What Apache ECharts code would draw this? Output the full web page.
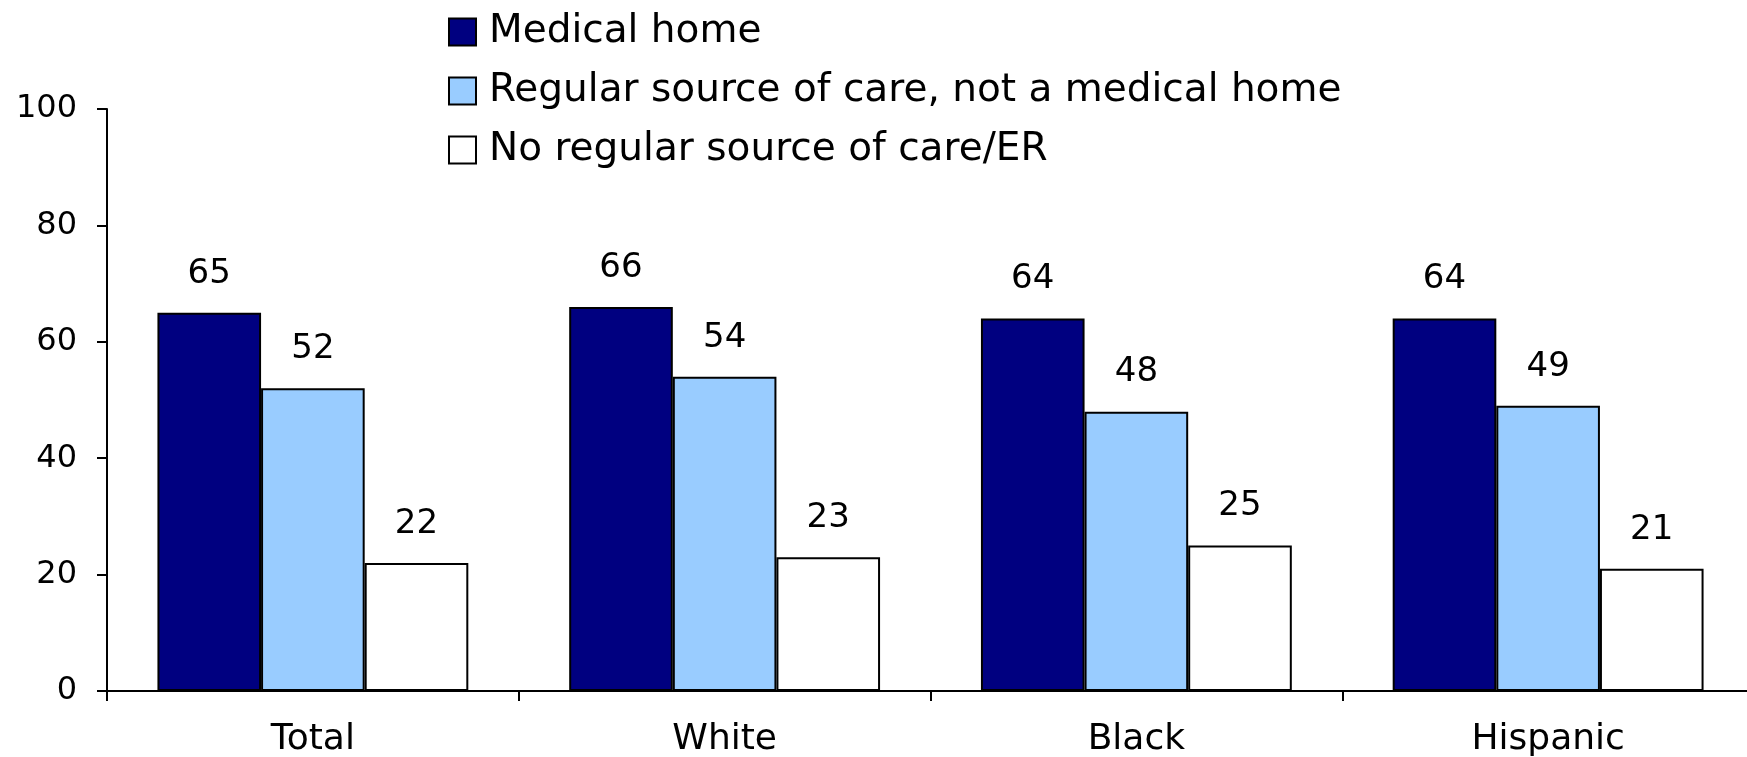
<!DOCTYPE html>
<html>
<head>
<meta charset="utf-8">
<script src="https://cdn.jsdelivr.net/npm/echarts@6/dist/echarts.min.js"></script>
<style>
html,body{margin:0;padding:0;background:#fff;}
#chart{width:1747px;height:757px;}
</style>
</head>
<body>
<div id="chart"></div>
<script>
const categories = ['Total', 'White', 'Black', 'Hispanic'];
const seriesNames = ['Medical home', 'Regular source of care, not a medical home', 'No regular source of care/ER'];
const medicalHome = [65, 66, 64, 64];
const regularSource = [52, 54, 48, 49];
const noRegularSource = [22, 23, 25, 21];
const yTicks = [0, 20, 40, 60, 80, 100];

const colors = ['#000080', '#99CCFF', '#FFFFFF'];
const font = 'DejaVu Sans';
const chart = echarts.init(document.getElementById('chart'));

function mk(name, data, color) {
  return {
    name: name,
    type: 'bar',
    data: data,
    barGap: '0%',
    barCategoryGap: '24.5%',
    itemStyle: { color: color, borderColor: '#000', borderWidth: 2 },
    label: { show: true, position: 'top', distance: 22, color: '#000', fontFamily: font, fontSize: 34 }
  };
}

chart.setOption({
  animation: false,
  textStyle: { fontFamily: font },
  legend: {
    orient: 'vertical',
    left: 443,
    top: 6,
    itemWidth: 27,
    itemHeight: 27,
    itemGap: 17,
    icon: 'rect',
    textStyle: { fontFamily: font, fontSize: 39, color: '#000', lineHeight: 42, padding: [0, 0, 0, 8] },
    data: seriesNames.map((n, i) => ({ name: n, itemStyle: { color: colors[i], borderColor: '#000', borderWidth: 2 } }))
  },
  grid: { left: 107, top: 109, width: 1647, bottom: 66, containLabel: false, outerBoundsMode: 'none' },
  xAxis: {
    type: 'category',
    data: categories,
    axisLine: { lineStyle: { color: '#000', width: 2 } },
    axisTick: { show: true, length: 10, lineStyle: { color: '#000', width: 2 } },
    axisLabel: { color: '#000', fontFamily: font, fontSize: 36, margin: 31 }
  },
  yAxis: {
    type: 'value',
    min: yTicks[0],
    max: yTicks[yTicks.length - 1],
    interval: 20,
    splitLine: { show: false },
    axisLine: { show: true, lineStyle: { color: '#000', width: 2 } },
    axisTick: { show: true, length: 10, lineStyle: { color: '#000', width: 2 } },
    axisLabel: { color: '#000', fontFamily: font, fontSize: 32, margin: 30 }
  },
  series: [
    mk(seriesNames[0], medicalHome, colors[0]),
    mk(seriesNames[1], regularSource, colors[1]),
    mk(seriesNames[2], noRegularSource, colors[2])
  ]
});
</script>
</body>
</html>
